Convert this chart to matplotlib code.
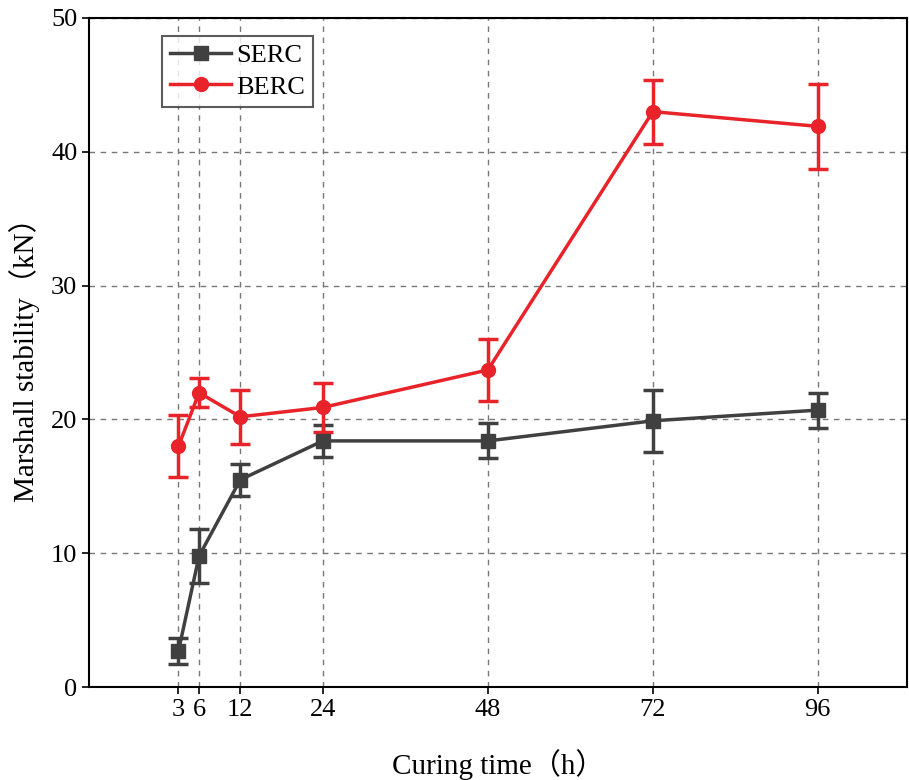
import matplotlib.pyplot as plt
from matplotlib.lines import Line2D

# curing time (h)
hours = [3, 6, 12, 24, 48, 72, 96]

# Marshall stability (kN)
serc = [2.7, 9.8, 15.5, 18.4, 18.4, 19.9, 20.7]
serc_err = [1.0, 2.0, 1.2, 1.2, 1.3, 2.3, 1.3]
berc = [18.0, 22.0, 20.2, 20.9, 23.7, 43.0, 41.9]
berc_err = [2.3, 1.1, 2.0, 1.8, 2.3, 2.4, 3.2]

plt.rcParams['font.family'] = ['Liberation Serif', 'Noto Sans CJK SC']

fig = plt.figure(figsize=(9.09, 7.80), dpi=100)
ax = fig.add_axes([0.098, 0.119, 0.90, 0.858])

grey = '#404040'
red = '#e8232a'
ax.errorbar(hours, serc, yerr=serc_err, color=grey, marker='s', markersize=10,
            linewidth=2.5, elinewidth=2.5, capsize=7, capthick=2.5, zorder=3)
ax.errorbar(hours, berc, yerr=berc_err, color=red, marker='o', markersize=10,
            linewidth=2.5, elinewidth=2.5, capsize=7, capthick=2.5, zorder=3)

ax.set_xlim(-10, 109)
ax.set_ylim(0, 50)
ax.set_xticks(hours)
ax.set_xticklabels(['3', '6', '12', '24', '48', '72', '96'])
ax.set_yticks([0, 10, 20, 30, 40, 50])
ax.tick_params(labelsize=19, direction='out', length=5, width=1.2)
ax.grid(True, linestyle=(0, (4, 4)), color='#777777', linewidth=1)
ax.set_axisbelow(True)
for s in ax.spines.values():
    s.set_linewidth(1.5)

ax.set_xlabel('Curing time（h）', fontsize=21, labelpad=20)
ax.set_ylabel('Marshall stability（kN）', fontsize=21, labelpad=8)

handles = [Line2D([], [], color=grey, marker='s', markersize=10, linewidth=2.5),
           Line2D([], [], color=red, marker='o', markersize=10, linewidth=2.5)]
leg = ax.legend(handles, ['SERC', 'BERC'], loc='upper left', bbox_to_anchor=(0.08, 0.985),
                fontsize=19, frameon=True, fancybox=False, edgecolor='#333333',
                handlelength=2.3, borderpad=0.3, labelspacing=0.3, handletextpad=0.2,
                borderaxespad=0.3)
leg.get_frame().set_linewidth(1.5)

fig.savefig('out.png', dpi=100)
